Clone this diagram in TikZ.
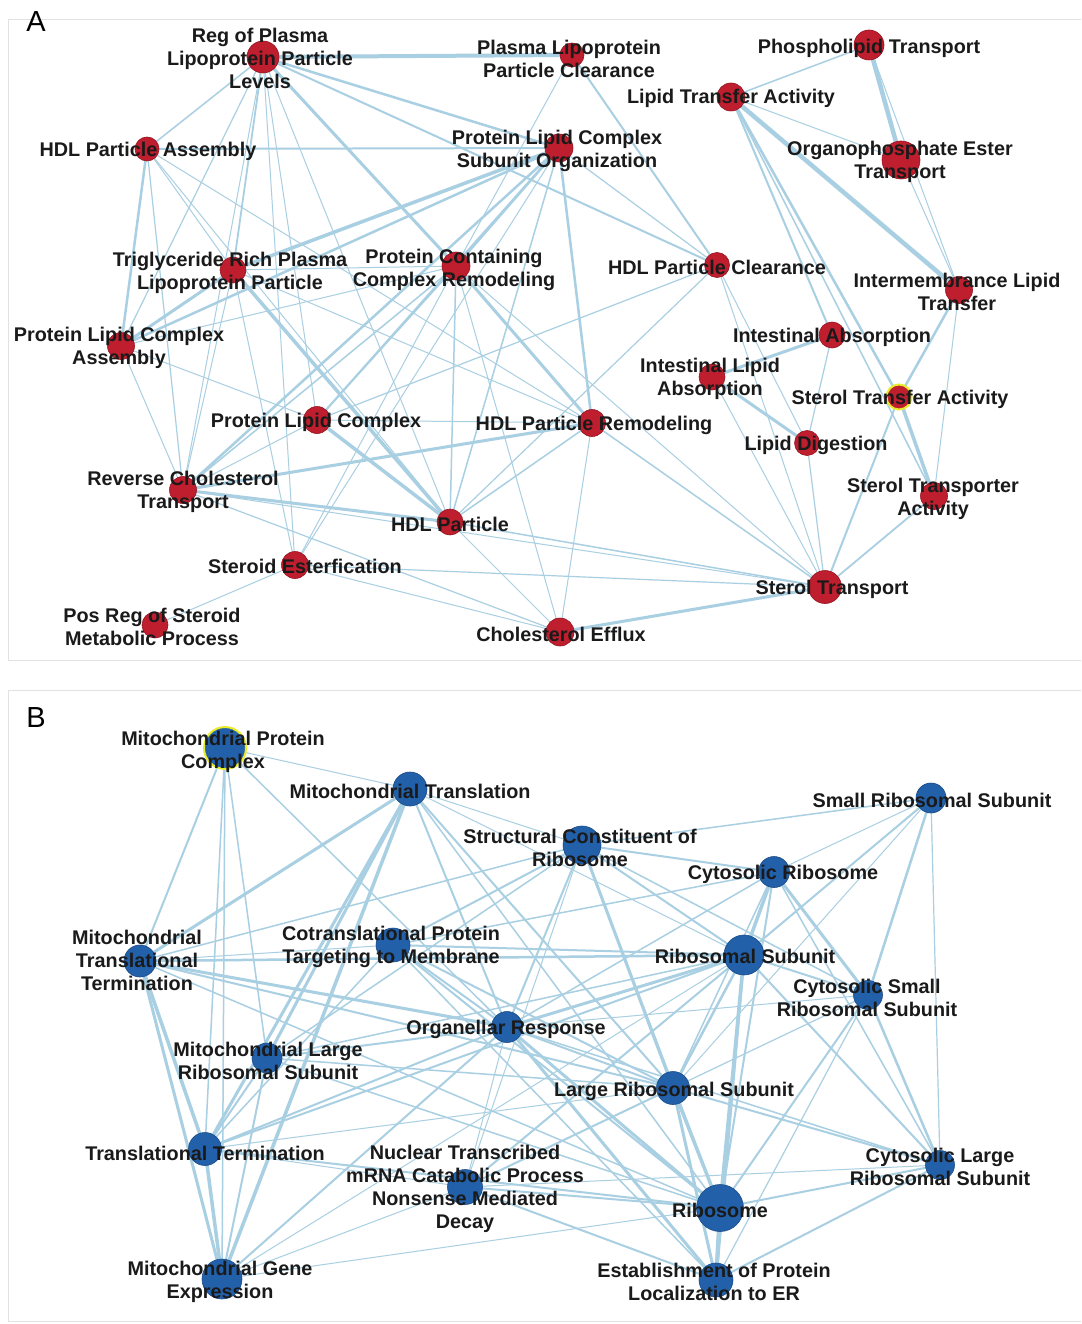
\documentclass[tikz,border=0pt]{standalone}
\usepackage{fontspec}
\setmainfont{Liberation Sans}
\usetikzlibrary{backgrounds}
\definecolor{edgec}{HTML}{A9CFE2}
\definecolor{redn}{HTML}{BE1E2D}
\definecolor{redb}{HTML}{961421}
\definecolor{bluen}{HTML}{2360AA}
\definecolor{blueb}{HTML}{1A4A85}
\definecolor{ringy}{HTML}{E8EC2A}
\definecolor{framec}{HTML}{E2E2E2}
\definecolor{labc}{HTML}{1A1A1A}
\newcommand\RN[4]{\node[rnode,minimum size=#4pt] (#1) at (#2,#3) {};}
\newcommand\BN[4]{\node[bnode,minimum size=#4pt] (#1) at (#2,#3) {};}
\newcommand\LB[4]{\node[lab] (#1-l) at (#2,#3) {#4};}
\begin{document}
\begin{tikzpicture}[x=1pt,y=-1pt,
  rnode/.style={circle,fill=redn,draw=redb,line width=0.6pt,inner sep=0pt},
  bnode/.style={circle,fill=bluen,draw=blueb,line width=0.6pt,inner sep=0pt},
  lab/.style={font=\bfseries\fontsize{19.8}{23}\selectfont,align=center,inner sep=0pt,text=labc,yshift=-2pt},
  plab/.style={font=\fontsize{29}{30}\selectfont,inner sep=0pt,text=black},
  edge/.style={draw=edgec,line cap=round},
  panel/.style={draw=framec,line width=1pt}]
\useasboundingbox (0,0) rectangle (1081,1324);
% ---------------- Panel A nodes ----------------
\RN{rp}{263}{57}{32}
\RN{pc}{572}{55}{24}
\RN{pt}{869}{45}{30}
\RN{lt}{731}{97}{28}
\RN{oe}{901}{160}{38}
\RN{so}{559}{148}{28}
\RN{ha}{147}{149}{24}
\RN{tg}{233}{270}{26}
\RN{cr}{456}{266}{28}
\RN{hc}{717}{265}{25}
\RN{im}{959}{290}{27}
\RN{pa}{121}{346}{27}
\RN{ia}{832}{335}{26}
\RN{il}{712}{377}{26}
\node[rnode,draw=ringy,line width=2pt,minimum size=25pt] (sa) at (899,397) {};
\RN{pl}{317}{420}{27}
\RN{hr}{592}{423}{27}
\RN{ld}{807}{443}{25}
\RN{rc}{183}{490}{27}
\RN{sr}{934}{496}{27}
\RN{hp}{450}{522}{26}
\RN{se}{295}{565}{27}
\RN{st}{825}{587}{33}
\RN{ps}{155}{625}{26}
\RN{ce}{560}{632}{28}
% ---------------- Panel B nodes ----------------
\node[bnode,draw=ringy,line width=2pt,minimum size=42pt] (mp) at (225,748) {};
\BN{mt}{410}{789}{34}
\BN{sm}{931}{798}{30}
\BN{sc}{582}{845}{38}
\BN{cy}{774}{872}{31}
\BN{tt}{140}{961}{32}
\BN{ct}{393}{945}{34}
\BN{rs}{744}{955}{40}
\BN{cs}{868}{995}{29}
\BN{or}{507}{1027}{31}
\BN{ml}{267}{1058}{30}
\BN{lr}{673}{1088}{33}
\BN{tr}{205}{1149}{33}
\BN{nm}{465}{1187}{35}
\BN{cl}{940}{1165}{29}
\BN{ri}{720}{1208}{47}
\BN{mg}{222}{1279}{40}
\BN{ep}{716}{1280}{34}
% ---------------- frames and edges ----------------
\begin{scope}[on background layer]
\fill[white] (0,0) rectangle (1081,1324);
\draw[panel] (1081,20) -- (8,20) -- (8,660) -- (1081,660);
\draw[panel] (1081,690) -- (8,690) -- (8,1321) -- (1081,1321);
\foreach \a/\b/\w in {
 rp/pc/4, rp/ha/1.5, rp/so/2.5, rp/hc/2, rp/cr/3, rp/tg/1.8, rp/pa/1.2, rp/rc/1, rp/pl/1, rp/hp/1, rp/se/1,
 pc/cr/1, pc/hc/2,
 pt/lt/1.5, pt/oe/4.5, pt/im/1,
 lt/oe/1, lt/im/4.5, lt/ia/2, lt/sa/2.5, lt/sr/1.5,
 oe/im/1,
 im/sa/2.5, im/sr/1,
 ia/il/3, ia/ld/1.2,
 il/ld/3, il/st/1,
 hc/ld/1, hc/st/1, hc/so/1.2, hc/pl/1.2, hc/hp/1.2,
 sa/sr/3.5, sa/st/2, sr/st/1.8, ld/st/1.2,
 ha/so/2, ha/pa/2.5, ha/tg/1, ha/rc/1.2, ha/hr/1, ha/hp/1,
 tg/so/3.5, tg/cr/1, tg/pa/3, tg/hp/3.5, tg/rc/1, tg/se/1, tg/hr/1,
 so/cr/2.5, so/pa/2.5, so/pl/2, so/rc/2.5, so/hp/1.5, so/hr/2.5, so/se/1,
 cr/pl/1.5, cr/hp/1.5, cr/rc/1.5, cr/hr/3, cr/se/1, cr/ce/1, cr/st/1, cr/pa/1,
 hr/pl/1, hr/hp/1.5, hr/ce/1, hr/st/1.5, hr/rc/3,
 pl/hp/3.5, pl/rc/1, pl/pa/1,
 rc/hp/3, rc/ce/1.2, rc/st/1, rc/pa/1,
 hp/st/1.5, hp/ce/1,
 se/ps/1, se/st/1.2, se/ce/1,
 ce/st/3,
 mp/mt/1, mp/tt/2, mp/tr/1.5, mp/mg/1.5, mp/ml/1.5, mp/or/1.5,
 mt/sc/1, mt/tt/3, mt/ml/3, mt/tr/3, mt/mg/3.5, mt/or/2, mt/lr/2, mt/rs/1, mt/ri/1.5,
 sm/sc/1.5, sm/cy/1, sm/rs/2, sm/cs/2.5, sm/cl/1.2, sm/lr/1,
 sc/cy/2, sc/rs/2, sc/tt/1.5, sc/ct/2, sc/or/2, sc/lr/3, sc/ri/1.5, sc/cs/1.5, sc/nm/1, sc/ml/1.5,
 cy/rs/3.5, cy/cs/3, cy/lr/1.5, cy/ri/2, cy/cl/1.5, cy/ct/1.5, cy/or/1.5,
 tt/ct/1, tt/rs/2.5, tt/or/3, tt/tr/3.5, tt/mg/3, tt/lr/2, tt/ri/1.5,
 ct/rs/2, ct/or/2, ct/lr/2, ct/ri/2, ct/ep/1.5, ct/tr/1.5,
 rs/cs/2, rs/or/3, rs/ml/1.5, rs/lr/2.5, rs/ri/3.5, rs/ep/3, rs/cl/2, rs/tr/2, rs/nm/2, rs/mg/1,
 cs/lr/1.2, cs/cl/2.5, cs/ri/2, cs/ep/1.2, cs/or/1,
 or/ml/2, or/lr/2, or/ri/3, or/tr/2, or/mg/2, or/ep/3, or/nm/1, or/cl/1.5,
 ml/tr/2, ml/mg/2, ml/lr/1.5, ml/ri/1.5,
 lr/ri/3.5, lr/ep/3, lr/cl/2, lr/nm/2, lr/tr/1,
 tr/mg/3.5, tr/ri/2, tr/nm/1,
 nm/ri/2, nm/ep/2, nm/mg/1, nm/cl/1,
 cl/ri/2, cl/ep/2,
 ri/ep/4, ri/mg/1}
 \draw[edge,line width=\w pt] (\a) -- (\b);
\end{scope}
% ---------------- panel letters ----------------
\node[plab] (panA) at (36,22) {A};
\node[plab] (panB) at (36,718) {B};
% ---------------- Panel A labels ----------------
\LB{rp}{260}{56}{Reg of Plasma\\Lipoprotein Particle\\Levels}
\LB{pc}{569}{57}{Plasma Lipoprotein\\Particle Clearance}
\LB{pt}{869}{46}{Phospholipid Transport}
\LB{lt}{731}{96}{Lipid Transfer Activity}
\LB{oe}{900}{160}{Organophosphate Ester\\Transport}
\LB{so}{557}{149}{Protein Lipid Complex\\Subunit Organization}
\LB{ha}{148}{149}{HDL Particle Assembly}
\LB{tg}{230}{271}{Triglyceride Rich Plasma\\Lipoprotein Particle}
\LB{cr}{454}{268}{Protein Containing\\Complex Remodeling}
\LB{hc}{717}{265}{HDL Particle Clearance}
\LB{im}{957}{290}{Intermembrance Lipid\\Transfer}
\LB{pa}{119}{346}{Protein Lipid Complex\\Assembly}
\LB{ia}{832}{335}{Intestinal Absorption}
\LB{il}{710}{377}{Intestinal Lipid\\Absorption}
\LB{sa}{900}{397}{Sterol Transfer Activity}
\LB{pl}{316}{420}{Protein Lipid Complex}
\LB{hr}{594}{423}{HDL Particle Remodeling}
\LB{ld}{816}{443}{Lipid Digestion}
\LB{rc}{183}{490}{Reverse Cholesterol\\Transport}
\LB{sr}{933}{497}{Sterol Transporter\\Activity}
\LB{hp}{450}{522}{HDL Particle}
\LB{se}{305}{564}{Steroid Esterfication}
\LB{st}{832}{587}{Sterol Transport}
\LB{ps}{152}{625}{Pos Reg of Steroid\\Metabolic Process}
\LB{ce}{561}{632}{Cholesterol Efflux}
% ---------------- Panel B labels ----------------
\LB{mp}{223}{750}{Mitochondrial Protein\\Complex}
\LB{mt}{410}{789}{Mitochondrial Translation}
\LB{sm}{932}{798}{Small Ribosomal Subunit}
\LB{sc}{580}{846}{Structural Constituent of\\Ribosome}
\LB{cy}{783}{872}{Cytosolic Ribosome}
\LB{tt}{137}{958}{Mitochondrial\\Translational\\Termination}
\LB{ct}{391}{945}{Cotranslational Protein\\Targeting to Membrane}
\LB{rs}{745}{954}{Ribosomal Subunit}
\LB{cs}{867}{996}{Cytosolic Small\\Ribosomal Subunit}
\LB{or}{506}{1027}{Organellar Response}
\LB{ml}{268}{1059}{Mitochondrial Large\\Ribosomal Subunit}
\LB{lr}{674}{1089}{Large Ribosomal Subunit}
\LB{tr}{205}{1151}{Translational Termination}
\LB{nm}{465}{1187}{Nuclear Transcribed\\mRNA Catabolic Process\\Nonsense Mediated\\Decay}
\LB{cl}{940}{1165}{Cytosolic Large\\Ribosomal Subunit}
\LB{ri}{720}{1208}{Ribosome}
\LB{mg}{220}{1280}{Mitochondrial Gene\\Expression}
\LB{ep}{714}{1280}{Establishment of Protein\\Localization to ER}
\end{tikzpicture}
\end{document}
